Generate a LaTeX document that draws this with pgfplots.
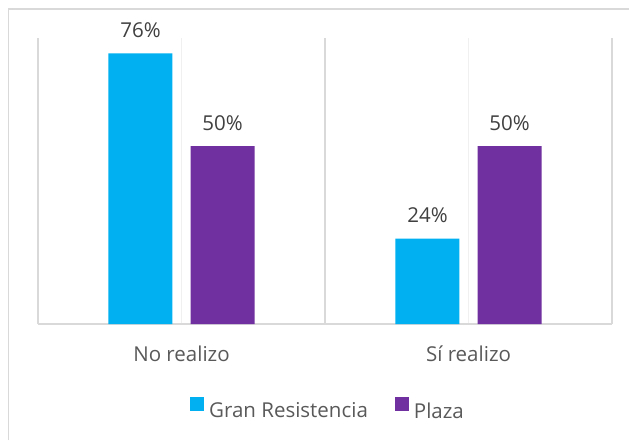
\documentclass[border=0pt]{standalone}
\usepackage{fontspec}
\setmainfont{Open Sans}
\usepackage{pgfplots}
\pgfplotsset{compat=1.18}
\definecolor{grcyan}{HTML}{00B0F0}
\definecolor{plpurple}{HTML}{7030A0}
\definecolor{gridgray}{HTML}{D9D9D9}
\definecolor{faintgray}{HTML}{F0F0F0}
\definecolor{txtgray}{HTML}{595959}
\definecolor{lblgray}{HTML}{404040}
\begin{document}
\begin{tikzpicture}[x=1pt,y=1pt]
\useasboundingbox (0,0) rectangle (629,440);
\draw[gridgray,line width=1.3pt] (8.5,0) -- (8.5,431) -- (629,431);
\begin{axis}[
  at={(38pt,116pt)}, anchor=south west,
  scale only axis, width=574pt, height=286pt,
  xmin=-0.5, xmax=1.5, ymin=0, ymax=80.34,
  axis y line=none, axis x line=bottom,
  x axis line style={-, draw=gridgray, line width=1.5pt},
  xtick={0,1}, xticklabels={No realizo, Sí realizo},
  minor xtick={-0.5,0.5,1.5},
  xmajorgrids, xminorgrids,
  major grid style={draw=faintgray, line width=1pt},
  minor grid style={draw=gridgray, line width=1.2pt},
  major tick length=0pt, minor tick length=0pt,
  xticklabel style={font=\fontsize{20.5}{24}\selectfont, color=txtgray, anchor=base, yshift=-37pt},
  ybar, bar width=0.223,
  /pgf/number format/assume math mode=true,
  nodes near coords={\pgfmathprintnumber{\pgfplotspointmeta}\%},
  every node near coord/.append style={font=\fontsize{20.5}{24}\selectfont, color=lblgray, anchor=base, yshift=16pt, inner sep=0pt},
  legend style={at={(0.5035,-0.297)}, anchor=center, draw=none, fill=none,
    font=\fontsize{20.5}{24}\selectfont, text=txtgray,
    nodes={inner xsep=0pt, inner ysep=1pt},
    /tikz/every odd column/.append style={column sep=5pt},
    /tikz/every even column/.append style={column sep=27pt}},
  legend columns=2,
  legend image code/.code={\fill[#1] (0pt,0pt) rectangle (14pt,14pt);},
]
\addplot[fill=grcyan, draw=none, bar shift=-0.1429] coordinates {(0,76) (1,24)};
\addlegendentry{Gran Resistencia}
\addplot[fill=plpurple, draw=none, bar shift=0.1429] coordinates {(0,50) (1,50)};
\addlegendentry{Plaza}
\end{axis}
\end{tikzpicture}
\end{document}
